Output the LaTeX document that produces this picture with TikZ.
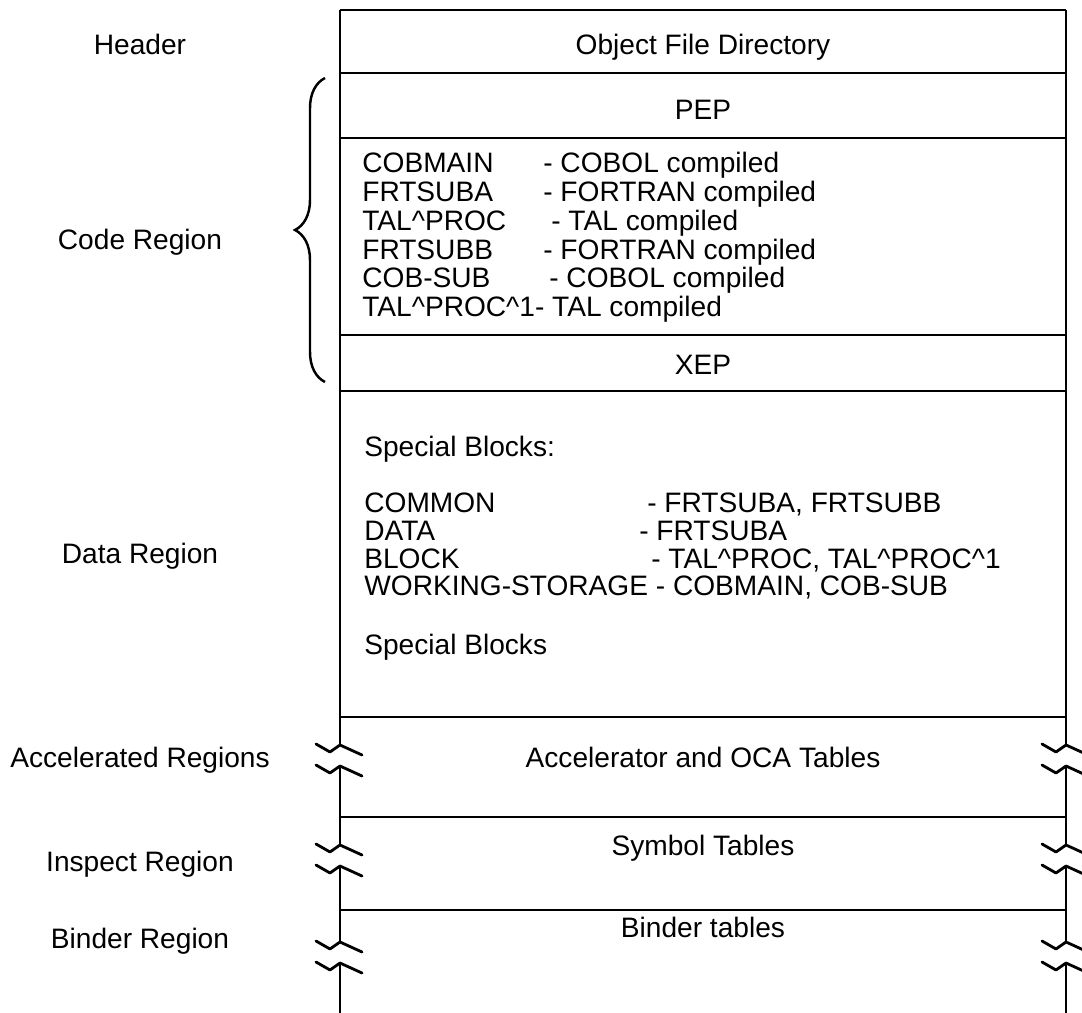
\documentclass[tikz,border=0pt]{standalone}
\usepackage{fontspec}
\setmainfont{Liberation Sans}
\usetikzlibrary{positioning}
\usetikzlibrary{decorations.pathreplacing}
\newcommand{\ent}[2]{\makebox[#1][l]{#2}}
\tikzset{frame/.style = {line width=0.8pt}}
\tikzset{brk/.style = {line width=1.6pt, line join=round, line cap=round}}
\tikzset{lbl/.style = {font=\fontsize{16}{16}\selectfont, inner sep=0, anchor=base}}
\tikzset{listing/.style = {inner sep=0, anchor=north west, align=left}}
\tikzset{curly/.style = {decorate, decoration={brace, amplitude=0.6cm}, line width=1.4pt}}

\begin{document}
\begin{tikzpicture}[x=0.02cm, y=-0.02cm]
  \useasboundingbox (0,0) rectangle (1082,1013);

  % frame and region lines
  \draw[frame] (340,10) -- (1066,10);
  \foreach \y in {73,138,335,391,717,817,910}
    \draw[frame] (340,\y) -- (1066,\y);
  \foreach \x in {340,1066} {
    \draw[frame] (\x,10) -- (\x,745);
    \draw[frame] (\x,766) -- (\x,845);
    \draw[frame] (\x,866) -- (\x,942);
    \draw[frame] (\x,963) -- (\x,1013);
    \foreach \y in {745,766,845,866,942,963}
      \draw[brk] (\x-24,\y-1) -- (\x-10,\y+7) -- (\x,\y) -- (\x+22,\y+10); % break mark
  }

  \draw[curly] (325,382) -- (325,78);

  % labels on the left
  \node[lbl] (hdr)   at (140,55)  {Header};
  \node[lbl] (coder) at (140,250) {Code Region};
  \node[lbl] (datar) at (140,563) {Data Region};
  \node[lbl] (accr)  at (140,767) {Accelerated Regions};
  \node[lbl] (insr)  at (140,871) {Inspect Region};
  \node[lbl] (bndr)  at (140,948) {Binder Region};

  % contents of the file
  \node[lbl] (odf) at (703,55)  {Object File Directory};
  \node[lbl] (pep) at (703,120) {PEP};
  \node[listing, font=\fontsize{16}{16.4}\selectfont] (code) at (362,152) {%
    \ent{3.62cm}{COBMAIN}- COBOL compiled\\
    \ent{3.62cm}{FRTSUBA}- FORTRAN compiled\\
    \ent{3.78cm}{TAL\textasciicircum PROC}- TAL compiled\\
    \ent{3.62cm}{FRTSUBB}- FORTRAN compiled\\
    \ent{3.74cm}{COB-SUB}- COBOL compiled\\
    TAL\textasciicircum PROC\textasciicircum 1- TAL compiled};
  \node[lbl] (xep) at (703,375) {XEP};
  \node[lbl, anchor=base west] (spb) at (364,457) {Special Blocks:};
  \node[listing, font=\fontsize{16}{15.7}\selectfont] (data) at (364,493) {%
    \ent{5.66cm}{COMMON}- FRTSUBA, FRTSUBB\\
    \ent{5.5cm}{DATA}- FRTSUBA\\
    \ent{5.74cm}{BLOCK}- TAL\textasciicircum PROC, TAL\textasciicircum PROC\textasciicircum 1\\
    WORKING-STORAGE - COBMAIN, COB-SUB};
  \node[lbl, anchor=base west] (spb2) at (364,654) {Special Blocks};
  \node[lbl] (acct) at (703,767) {Accelerator and OCA Tables};
  \node[lbl] (symt) at (703,855) {Symbol Tables};
  \node[lbl] (bndt) at (703,937) {Binder tables};
\end{tikzpicture}
\end{document}
